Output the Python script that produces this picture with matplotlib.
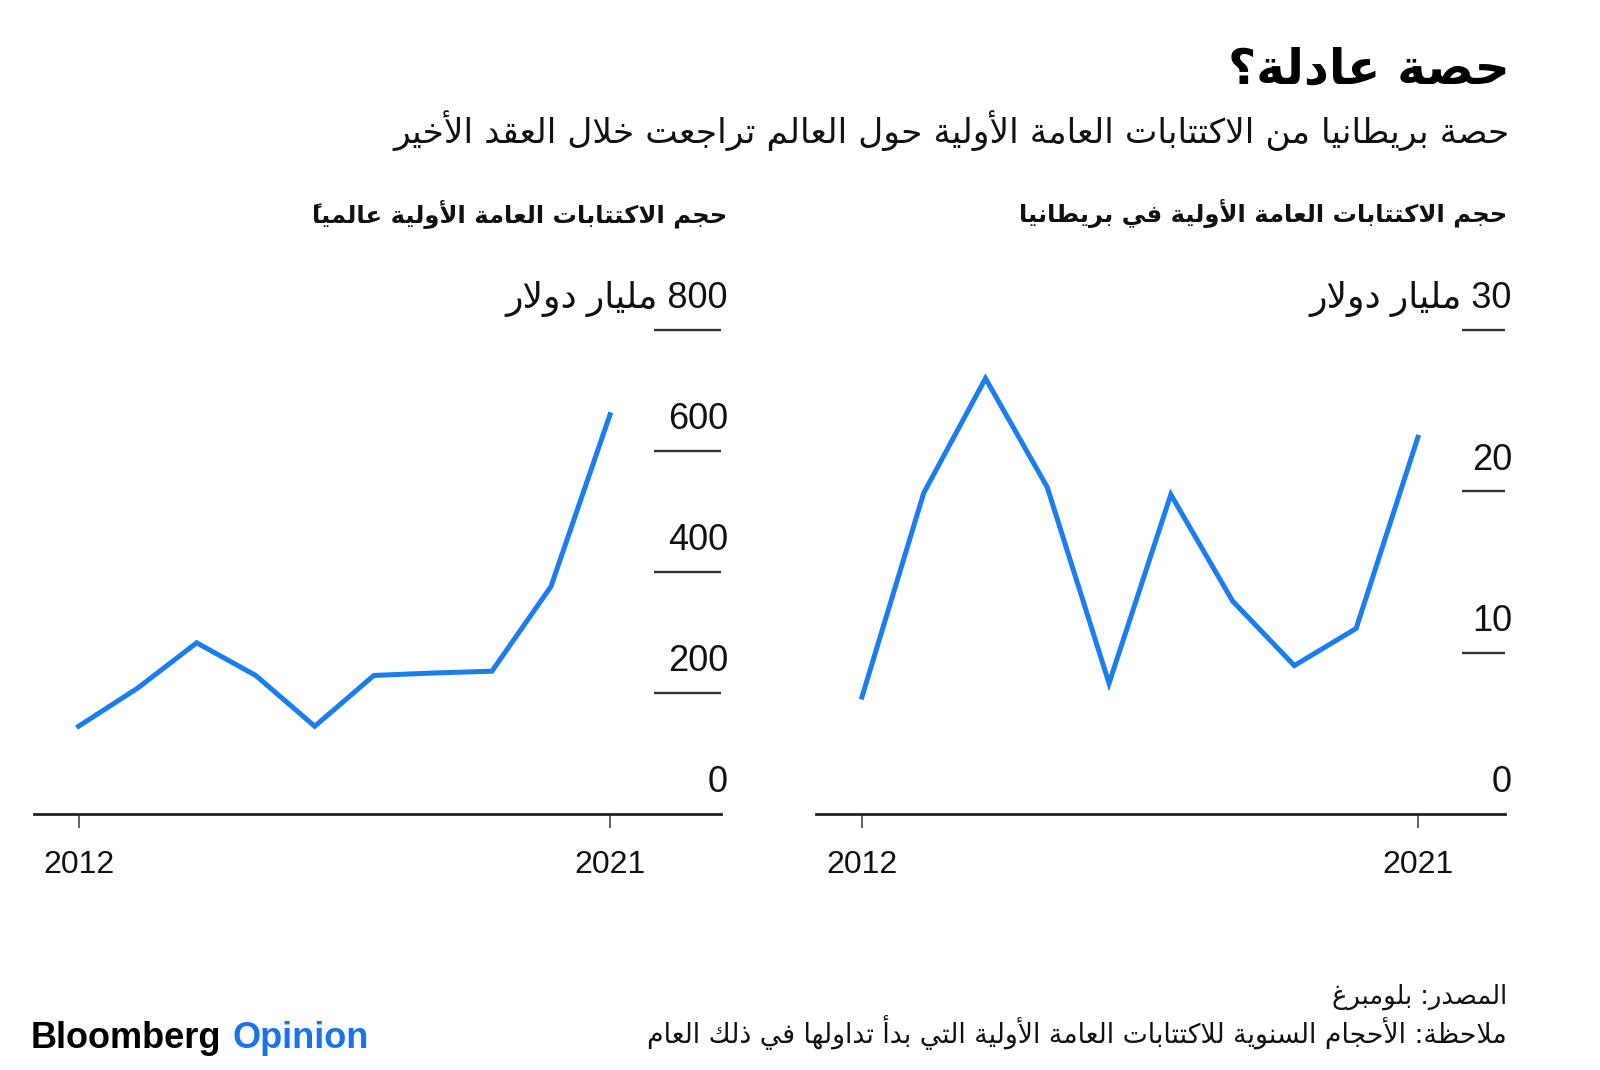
import matplotlib
matplotlib.use("Agg")
import matplotlib.pyplot as plt

# --- minimal Arabic shaping (presentation forms) + visual reordering ---
D4 = {'ئ': 0xFE89, 'ب': 0xFE8F, 'ت': 0xFE95, 'ث': 0xFE99, 'ج': 0xFE9D, 'ح': 0xFEA1,
      'خ': 0xFEA5, 'س': 0xFEB1, 'ش': 0xFEB5, 'ص': 0xFEB9, 'ض': 0xFEBD, 'ط': 0xFEC1,
      'ظ': 0xFEC5, 'ع': 0xFEC9, 'غ': 0xFECD, 'ف': 0xFED1, 'ق': 0xFED5, 'ك': 0xFED9,
      'ل': 0xFEDD, 'م': 0xFEE1, 'ن': 0xFEE5, 'ه': 0xFEE9, 'ي': 0xFEF1}
R2 = {'آ': 0xFE81, 'أ': 0xFE83, 'ؤ': 0xFE85, 'إ': 0xFE87, 'ا': 0xFE8D, 'ة': 0xFE93,
      'د': 0xFEA9, 'ذ': 0xFEAB, 'ر': 0xFEAD, 'ز': 0xFEAF, 'و': 0xFEED, 'ى': 0xFEEF}
LAM_ALEF = {'آ': 0xFEF5, 'أ': 0xFEF7, 'إ': 0xFEF9, 'ا': 0xFEFB}


def is_mark(ch):
    return 0x064B <= ord(ch) <= 0x065F or ord(ch) == 0x0670


def ar(text):
    units = []
    i = 0
    while i < len(text):
        ch = text[i]
        if is_mark(ch) and units:
            units[-1][2] += ch
        elif ch == 'ل' and i + 1 < len(text) and text[i + 1] in LAM_ALEF:
            units.append([LAM_ALEF[text[i + 1]], 'LA', ''])
            i += 1
        else:
            kind = 'D' if ch in D4 else 'R' if ch in R2 else 'U'
            units.append([ch, kind, ''])
        i += 1
    clusters = []
    for k, (ch, t, marks) in enumerate(units):
        prev_t = units[k - 1][1] if k > 0 else None
        next_t = units[k + 1][1] if k + 1 < len(units) else None
        jp = t in ('D', 'R', 'LA') and prev_t == 'D'
        jn = t == 'D' and next_t in ('D', 'R', 'LA')
        if t == 'D':
            g = chr(D4[ch] + (3 if jp and jn else 1 if jp else 2 if jn else 0))
        elif t == 'R':
            g = chr(R2[ch] + (1 if jp else 0))
        elif t == 'LA':
            g = chr(ch + (1 if jp else 0))
        else:
            g = ch
        # marks go first so they sit over the glyph drawn right after them
        clusters.append(marks + g)
    clusters = clusters[::-1]
    res, run = [], []
    for c in clusters:
        if c.isascii() and c.isalnum():
            run.append(c)
        else:
            res.extend(run[::-1])
            run = []
            res.append(c)
    res.extend(run[::-1])
    return ''.join(res)


# --- data ---
years = [2012, 2013, 2014, 2015, 2016, 2017, 2018, 2019, 2020, 2021]
global_ipo = [145, 208, 283, 229, 145, 229, 233, 236, 376, 660]
uk_ipo = [7.25, 19.9, 27.0, 20.25, 8.1, 19.8, 13.2, 9.2, 11.5, 23.35]

global_ticks = [0, 200, 400, 600, 800]
global_labels = ['0', '200', '400', '600', '800 مليار دولار']
uk_ticks = [0, 10, 20, 30]
uk_labels = ['0', '10', '20', '30 مليار دولار']
xtick_years = [2012, 2021]

title = 'حصة عادلة؟'
subtitle = 'حصة بريطانيا من الاكتتابات العامة الأولية حول العالم تراجعت خلال العقد الأخير'
left_title = 'حجم الاكتتابات العامة الأولية عالمياً'
right_title = 'حجم الاكتتابات العامة الأولية في بريطانيا'
source = 'المصدر: بلومبرغ'
note = 'ملاحظة: الأحجام السنوية للاكتتابات العامة الأولية التي بدأ تداولها في ذلك العام'

BLUE = '#1a7df0'
W, H = 1600, 1070
FAM = ['Liberation Sans', 'DejaVu Sans']
AR = ['DejaVu Sans']

fig = plt.figure(figsize=(16, 10.7), dpi=100)
fig.patch.set_facecolor('white')


def fx(px):
    return px / W


def fy(py):
    return 1 - py / H


def panel(x0, x1, xlim, ylim, ticks, labels, seg_start, values, heading, head_x):
    ax = fig.add_axes([fx(x0), fy(814), fx(x1 - x0), (814 - 330) / H])
    ax.plot(years, values, color=BLUE, lw=3.6, solid_joinstyle='miter',
            clip_on=False)
    ax.set_xlim(*xlim)
    ax.set_ylim(*ylim)
    for s in ('top', 'right', 'left'):
        ax.spines[s].set_visible(False)
    ax.spines['bottom'].set_color('#222222')
    ax.spines['bottom'].set_linewidth(2)
    ax.set_yticks([])
    ax.set_xticks(xtick_years)
    ax.set_xticklabels([str(y) for y in xtick_years], family=FAM, fontsize=23,
                       color='#111111')
    ax.tick_params(axis='x', length=10, width=1.3, color='#555555', pad=16)
    ax.hlines(ticks[1:], seg_start, 1.0, transform=ax.get_yaxis_transform(),
              color='#333333', lw=1.7, clip_on=False)
    for v, lab in zip(ticks, labels):
        ax.annotate(ar(lab), xy=(1.0, v), xycoords=ax.get_yaxis_transform(),
                    xytext=(5, 15.5), textcoords='offset points',
                    ha='right', va='baseline', fontsize=26, family=FAM,
                    color='#111111', annotation_clip=False)
    fig.text(fx(head_x), fy(214), ar(heading), ha='right', va='center',
             fontsize=17.5, fontweight='bold', family=AR, color='#111111')
    return ax


panel(34, 721, (2011.245, 2022.88), (0, 800), global_ticks, global_labels,
      0.9025, global_ipo, left_title, 727)
panel(816, 1505, (2011.256, 2022.41), (0, 30), uk_ticks, uk_labels,
      0.9376, uk_ipo, right_title, 1507)

fig.text(fx(1510), fy(69), ar(title), ha='right', va='center', fontsize=35,
         fontweight='bold', family=AR, color='#000000')
fig.text(fx(1510), fy(131), ar(subtitle), ha='right', va='center', fontsize=24.8,
         family=AR, color='#111111')

fig.text(fx(1507), fy(997), ar(source), ha='right', va='center', fontsize=18.5,
         family=AR, color='#111111')
fig.text(fx(1507), fy(1033), ar(note), ha='right', va='center', fontsize=19.3,
         family=AR, color='#111111')

ax0 = fig.axes[0]
t1 = ax0.annotate('Bloomberg', xy=(fx(31), fy(1039)), xycoords='figure fraction',
                  ha='left', va='center', fontsize=26, fontweight='bold',
                  family=FAM, color='#000000', annotation_clip=False)
ax0.annotate('Opinion', xy=(1, 0), xycoords=t1, xytext=(8, 0),
             textcoords='offset points', ha='left', va='bottom', fontsize=26,
             fontweight='bold', family=FAM, color='#1a73e8',
             annotation_clip=False)

fig.savefig('out.png', dpi=100, facecolor='white')
